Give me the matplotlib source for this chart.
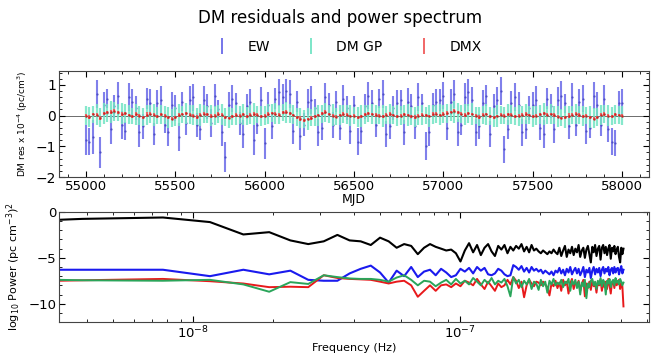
import numpy as np
import matplotlib
matplotlib.use("Agg")
import matplotlib.pyplot as plt
from matplotlib.ticker import AutoMinorLocator
from matplotlib.lines import Line2D

# ---------------- top panel data (DM residuals, units 1e-4 pc/cm^3) ----------------
mjd = [55000 + 20 * i for i in range(151)]

ew_val = [
    -0.80, -0.85, -0.70, 0.70, -1.20, 0.35, 0.55, -0.45, 0.30, 0.65,
    -0.30, -0.50, 0.60, 0.45, 0.25, -0.55, -0.35, 0.55, 0.40, -0.60,
    0.40, 0.50, -0.30, -0.55, 0.35, 0.25, -0.70, 0.45, -0.25, 0.50,
    0.60, -0.30, -0.45, 0.50, 0.30, -0.25, 0.65, 0.20, -0.55, -1.35,
    0.35, 0.55, 0.40, -0.25, -0.60, 0.30, 0.45, -0.80, -0.30, 0.50,
    -0.90, 0.35, -0.35, 0.55, 0.75, 0.60, 0.80, 0.70, -0.50, 0.45,
    -0.65, -0.30, 0.45, 0.50, 0.25, -0.55, -0.40, 0.60, 0.35, -0.30,
    0.45, -0.40, 0.55, 0.25, -0.50, 0.35, -0.85, -0.50, 0.30, 0.65,
    0.40, -0.30, 0.55, 0.70, -0.60, -0.35, 0.25, 0.40, 0.50, -0.55,
    0.45, 0.30, -0.35, 0.60, 0.40, -1.00, -0.55, 0.35, 0.45, 0.50,
    0.65, -0.40, 0.45, 0.70, -0.55, -0.30, 0.60, 0.75, 0.50, -0.55,
    -0.35, 0.40, 0.65, -0.60, 0.30, 0.50, 0.80, -1.10, -0.45, 0.40,
    0.60, 0.35, -0.55, -0.45, 0.25, 0.35, 0.50, -0.40, -0.60, 0.55,
    0.30, -0.45, 0.50, 0.65, 0.40, -0.35, 0.60, -0.30, 0.45, 0.55,
    -0.50, -0.40, 0.65, 0.35, -0.30, 0.55, -0.45, -0.85, -0.90, 0.40,
    0.40]
ew_err = [
    0.50, 0.45, 0.55, 0.45, 0.50, 0.40, 0.32, 0.48, 0.38, 0.44,
    0.46, 0.30, 0.45, 0.42, 0.38, 0.47, 0.40, 0.34, 0.46, 0.36,
    0.42, 0.45, 0.28, 0.44, 0.40, 0.43, 0.47, 0.31, 0.37, 0.45,
    0.44, 0.39, 0.33, 0.46, 0.40, 0.45, 0.37, 0.29, 0.44, 0.50,
    0.40, 0.45, 0.32, 0.38, 0.46, 0.40, 0.43, 0.48, 0.30, 0.44,
    0.50, 0.41, 0.40, 0.35, 0.45, 0.43, 0.40, 0.47, 0.42, 0.34,
    0.46, 0.38, 0.42, 0.45, 0.30, 0.44, 0.41, 0.46, 0.39, 0.43,
    0.35, 0.40, 0.44, 0.38, 0.42, 0.29, 0.45, 0.43, 0.40, 0.44,
    0.42, 0.39, 0.31, 0.45, 0.43, 0.40, 0.38, 0.44, 0.33, 0.42,
    0.44, 0.40, 0.41, 0.45, 0.30, 0.45, 0.44, 0.39, 0.42, 0.36,
    0.45, 0.41, 0.43, 0.47, 0.44, 0.32, 0.46, 0.45, 0.42, 0.44,
    0.40, 0.43, 0.35, 0.42, 0.39, 0.44, 0.45, 0.45, 0.32, 0.40,
    0.45, 0.41, 0.44, 0.30, 0.38, 0.42, 0.46, 0.40, 0.44, 0.35,
    0.39, 0.43, 0.44, 0.46, 0.31, 0.40, 0.45, 0.38, 0.43, 0.44,
    0.42, 0.34, 0.45, 0.41, 0.38, 0.44, 0.42, 0.45, 0.42, 0.40,
    0.45]
gp_val = [
    0.00, -0.04, 0.04, 0.03, -0.06, 0.07, 0.09, 0.11, 0.13, 0.09,
    0.06, 0.07, 0.03, -0.02, 0.04, 0.01, -0.04, 0.02, 0.05, 0.03,
    -0.01, 0.03, 0.01, -0.05, -0.08, -0.04, 0.01, 0.04, 0.07, 0.04,
    0.01, -0.03, 0.02, 0.05, 0.04, -0.01, 0.01, 0.04, 0.03, -0.04,
    -0.06, -0.03, 0.01, 0.01, 0.03, -0.01, 0.02, 0.05, 0.03, -0.02,
    0.00, 0.04, 0.07, 0.06, 0.04, 0.09, 0.10, 0.07, 0.03, -0.04,
    -0.08, -0.12, -0.10, -0.07, -0.03, 0.01, 0.06, 0.10, 0.05, 0.01,
    -0.03, 0.02, 0.05, 0.03, -0.01, 0.00, -0.05, -0.02, 0.03, 0.06,
    0.05, 0.02, 0.01, -0.02, 0.02, 0.05, 0.02, -0.01, 0.00, 0.03,
    0.02, -0.02, -0.04, 0.00, 0.02, 0.01, -0.01, 0.03, 0.05, 0.03,
    0.05, 0.07, 0.10, 0.12, 0.09, 0.06, 0.03, 0.07, 0.05, 0.01,
    -0.03, 0.01, 0.04, -0.02, -0.05, -0.02, 0.02, 0.00, 0.03, 0.02,
    -0.01, 0.00, 0.02, 0.04, 0.02, -0.02, 0.00, 0.03, 0.06, 0.03,
    0.04, 0.02, -0.03, -0.06, -0.04, 0.00, 0.02, 0.05, 0.02, -0.01,
    0.00, -0.04, -0.08, -0.05, 0.01, 0.04, 0.00, -0.02, 0.03, 0.02,
    0.00]
gp_err = [
    0.30, 0.32, 0.28, 0.35, 0.30, 0.33, 0.29, 0.36, 0.31, 0.28,
    0.34, 0.30, 0.32, 0.27, 0.35, 0.31, 0.29, 0.33, 0.30, 0.36,
    0.28, 0.32, 0.30, 0.34, 0.29, 0.31, 0.35, 0.28, 0.33, 0.30,
    0.32, 0.29, 0.36, 0.30, 0.28, 0.34, 0.31, 0.29, 0.33, 0.30,
    0.35, 0.28, 0.32, 0.30, 0.34, 0.29, 0.31, 0.36, 0.28, 0.33,
    0.30, 0.32, 0.29, 0.35, 0.31, 0.28, 0.34, 0.30, 0.32, 0.29,
    0.33, 0.30, 0.36, 0.28, 0.31, 0.34, 0.29, 0.32, 0.30, 0.35,
    0.28, 0.33, 0.30, 0.31, 0.34, 0.29, 0.32, 0.36, 0.30, 0.28,
    0.33, 0.31, 0.29, 0.35, 0.30, 0.32, 0.28, 0.34, 0.31, 0.30,
    0.36, 0.29, 0.32, 0.30, 0.33, 0.28, 0.35, 0.31, 0.29, 0.34,
    0.30, 0.32, 0.28, 0.36, 0.31, 0.29, 0.33, 0.30, 0.35, 0.28,
    0.32, 0.30, 0.34, 0.29, 0.31, 0.36, 0.30, 0.28, 0.33, 0.31,
    0.29, 0.35, 0.30, 0.32, 0.28, 0.34, 0.31, 0.30, 0.36, 0.29,
    0.32, 0.30, 0.33, 0.28, 0.35, 0.31, 0.29, 0.34, 0.30, 0.32,
    0.28, 0.36, 0.31, 0.30, 0.33, 0.29, 0.35, 0.30, 0.32, 0.28,
    0.30]
dmx_val = [
    0.00, -0.05, 0.05, 0.02, -0.08, 0.08, 0.10, 0.12, 0.15, 0.10,
    0.05, 0.08, 0.02, -0.03, 0.05, 0.00, -0.05, 0.03, 0.06, 0.02,
    -0.02, 0.04, 0.00, -0.06, -0.10, -0.05, 0.02, 0.05, 0.08, 0.03,
    0.00, -0.04, 0.02, 0.06, 0.04, -0.02, 0.00, 0.05, 0.03, -0.05,
    -0.08, -0.03, 0.02, 0.00, 0.04, -0.02, 0.03, 0.06, 0.02, -0.03,
    0.00, 0.05, 0.08, 0.06, 0.03, 0.10, 0.12, 0.08, 0.02, -0.05,
    -0.10, -0.15, -0.12, -0.08, -0.03, 0.02, 0.08, 0.12, 0.05, 0.00,
    -0.04, 0.02, 0.06, 0.03, -0.02, 0.00, -0.06, -0.03, 0.04, 0.07,
    0.05, 0.02, 0.00, -0.03, 0.03, 0.06, 0.02, -0.02, 0.00, 0.04,
    0.02, -0.03, -0.05, 0.00, 0.03, 0.01, -0.02, 0.04, 0.06, 0.02,
    0.05, 0.08, 0.12, 0.15, 0.10, 0.06, 0.02, 0.08, 0.05, 0.00,
    -0.04, 0.02, 0.05, -0.03, -0.06, -0.02, 0.03, 0.00, 0.04, 0.02,
    -0.02, 0.00, 0.03, 0.05, 0.02, -0.03, 0.00, 0.04, 0.07, 0.03,
    0.05, 0.02, -0.04, -0.08, -0.05, 0.00, 0.03, 0.06, 0.02, -0.02,
    0.00, -0.05, -0.10, -0.06, 0.02, 0.05, 0.00, -0.03, 0.04, 0.02,
    0.00]
dmx_err = [
    0.05, 0.06, 0.04, 0.05, 0.07, 0.05, 0.04, 0.06, 0.05, 0.04,
    0.06, 0.05, 0.04, 0.05, 0.06, 0.04, 0.05, 0.07, 0.04, 0.05,
    0.05, 0.04, 0.06, 0.05, 0.04, 0.05, 0.06, 0.04, 0.05, 0.05,
    0.04, 0.06, 0.05, 0.04, 0.05, 0.07, 0.04, 0.05, 0.06, 0.05,
    0.04, 0.05, 0.06, 0.04, 0.05, 0.05, 0.04, 0.06, 0.05, 0.04,
    0.05, 0.06, 0.04, 0.05, 0.05, 0.04, 0.06, 0.05, 0.04, 0.05,
    0.07, 0.05, 0.04, 0.06, 0.05, 0.04, 0.05, 0.06, 0.04, 0.05,
    0.05, 0.04, 0.06, 0.05, 0.04, 0.05, 0.06, 0.04, 0.05, 0.05,
    0.04, 0.06, 0.05, 0.04, 0.05, 0.07, 0.04, 0.05, 0.06, 0.05,
    0.04, 0.05, 0.06, 0.04, 0.05, 0.05, 0.04, 0.06, 0.05, 0.04,
    0.05, 0.06, 0.04, 0.05, 0.05, 0.04, 0.06, 0.05, 0.04, 0.05,
    0.07, 0.05, 0.04, 0.06, 0.05, 0.04, 0.05, 0.06, 0.04, 0.05,
    0.05, 0.04, 0.06, 0.05, 0.04, 0.05, 0.06, 0.04, 0.05, 0.05,
    0.04, 0.06, 0.05, 0.04, 0.05, 0.07, 0.04, 0.05, 0.06, 0.05,
    0.04, 0.05, 0.06, 0.04, 0.05, 0.05, 0.04, 0.06, 0.05, 0.04,
    0.05]

# ---------------- bottom panel data (log10 power) ----------------
span_days = 3000.0
freq = [3.15e-9] + [k / (span_days * 86400.0) for k in range(1, 107)]

pow_ew = [
    -0.85, -0.75, -0.60, -1.10, -2.45, -2.20, -3.10, -3.50, -3.20, -2.50,
    -3.10, -3.20, -3.60, -2.80, -3.20, -3.90, -3.50, -3.70, -4.60, -3.90,
    -3.50,
    -3.8, -4.0, -4.2, -4.1, -4.5, -5.4, -4.2, -3.4, -4.4, -3.6,
    -4.7, -3.9, -3.5, -4.3, -4.8, -3.7, -4.1, -3.6, -4.5, -3.8,
    -4.2, -3.7, -4.0, -3.5, -4.3, -3.8, -4.4, -3.6, -4.2, -4.0,
    -4.3, -4.5, -4.2, -4.4, -4.6, -4.3, -4.5, -4.1, -4.4, -4.6,
    -3.9, -4.8, -4.2, -3.7, -4.9, -4.1, -4.5, -3.8, -4.7, -4.0,
    -4.4, -3.6, -4.9, -4.2, -3.9, -5.0, -4.1, -3.7, -4.6, -5.5,
    -3.8, -4.4, -3.6, -4.8, -4.0, -3.7, -5.2, -3.9, -3.6, -4.5,
    -3.8, -4.7, -4.0, -3.6, -5.1, -3.9, -4.3, -3.7, -4.6, -4.1,
    -3.8, -4.9, -5.5, -3.9, -4.6, -4.0]
pow_blue = [
    -6.30, -6.30, -6.30, -7.00, -6.30, -6.80, -6.40, -7.40, -7.50, -7.50,
    -6.70, -6.20, -5.85, -6.60, -7.70, -6.40, -7.00, -6.00, -7.10, -6.50,
    -6.30,
    -6.9, -6.2, -6.6, -7.1, -6.9, -6.2, -6.5, -6.1, -6.7, -6.0,
    -6.4, -6.1, -6.8, -6.9, -6.7, -6.2, -6.4, -6.8, -7.0, -6.9,
    -5.8, -6.0, -6.3, -5.9, -6.5, -6.1, -6.6, -6.0, -6.4, -6.2,
    -6.5, -6.3, -6.7, -6.4, -6.6, -6.8, -6.5, -6.9, -6.4, -6.6,
    -6.1, -6.7, -6.3, -6.9, -6.2, -6.6, -6.0, -6.8, -6.4, -6.1,
    -6.7, -6.2, -6.9, -6.5, -6.0, -7.1, -6.3, -6.6, -6.1, -7.2,
    -6.4, -6.0, -6.8, -6.2, -6.6, -6.1, -7.0, -6.3, -6.0, -6.7,
    -6.2, -6.5, -6.0, -6.9, -6.3, -6.1, -6.7, -6.0, -6.6, -6.2,
    -6.1, -6.8, -6.3, -5.9, -6.7, -6.3]
pow_red = [
    -7.50, -7.45, -7.30, -7.55, -7.80, -8.20, -8.15, -8.20, -6.90, -7.20,
    -7.30, -7.35, -7.40, -7.60, -7.80, -7.60, -7.50, -8.00, -9.25, -8.60,
    -8.00,
    -8.6, -8.0, -7.9, -8.2, -7.8, -8.1, -7.5, -7.7, -8.0, -7.3,
    -7.9, -8.4, -7.6, -8.1, -8.6, -7.8, -8.2, -8.0, -7.4, -7.9,
    -7.1, -7.5, -8.3, -7.6, -9.3, -8.0, -7.4, -7.8, -8.1, -7.6,
    -7.7, -8.0, -7.6, -7.9, -8.2, -9.1, -7.8, -8.1, -7.5, -8.3,
    -7.7, -8.6, -7.4, -8.0, -7.6, -8.9, -7.8, -7.3, -8.4, -7.7,
    -8.0, -7.5, -8.6, -7.9, -7.4, -9.2, -7.8, -8.3, -7.6, -8.5,
    -7.5, -8.1, -7.8, -8.8, -7.6, -8.0, -7.4, -8.6, -7.7, -8.2,
    -7.6, -8.4, -7.3, -8.0, -8.9, -7.7, -7.5, -8.3, -7.4, -8.0,
    -7.6, -7.4, -8.4, -7.8, -8.1, -10.3]
pow_green = [
    -7.40, -7.45, -7.50, -7.40, -7.90, -8.70, -7.65, -7.85, -6.90, -7.10,
    -7.25, -7.30, -7.30, -7.40, -7.60, -7.15, -6.90, -7.40, -8.00, -7.50,
    -7.60,
    -8.1, -7.7, -7.4, -7.9, -7.3, -7.8, -7.5, -7.9, -7.2, -7.6,
    -8.0, -7.4, -7.8, -7.2, -7.9, -7.5, -7.7, -7.3, -8.1, -9.2,
    -7.1, -7.8, -7.4, -8.2, -7.5, -7.9, -7.3, -8.4, -7.6, -7.8,
    -8.5, -7.4, -8.1, -7.6, -8.8, -7.5, -7.9, -7.3, -8.0, -7.7,
    -7.9, -7.4, -8.2, -7.6, -7.8, -7.3, -8.6, -7.5, -7.9, -7.4,
    -8.3, -7.6, -9.0, -7.7, -8.1, -7.4, -9.4, -7.8, -8.2, -7.5,
    -7.3, -8.0, -7.6, -8.4, -7.5, -7.9, -7.2, -8.1, -7.4, -7.7,
    -9.0, -7.5, -7.8, -7.3, -8.2, -7.6, -7.4, -8.0, -7.2, -7.7,
    -7.5, -7.9, -7.3, -7.6, -8.0, -7.7]

# ---------------- figure ----------------
fig = plt.figure(figsize=(6.66, 3.56), dpi=100)
ax1 = fig.add_axes([0.0886, 0.5028, 0.886, 0.2978])
ax2 = fig.add_axes([0.0886, 0.0955, 0.886, 0.3090])

c_ew, c_gp, c_dmx = "#6a6ae8", "#72e4c4", "#f05a5a"

ax1.axhline(0, color="#333333", lw=0.5, zorder=1)
ax1.errorbar(mjd, ew_val, yerr=ew_err, fmt=".", ms=1.2, color="#4646c0",
             ecolor=c_ew, elinewidth=1.5, capsize=0, alpha=0.85, zorder=2)
ax1.errorbar(mjd, gp_val, yerr=gp_err, fmt=".", ms=1.2, color="#38b890",
             ecolor=c_gp, elinewidth=1.6, capsize=0, alpha=0.85, zorder=3)
ax1.errorbar(mjd, dmx_val, yerr=dmx_err, fmt=".", ms=1.5, color="#d02020",
             ecolor=c_dmx, elinewidth=1.5, capsize=0, alpha=0.9, zorder=4)
ax1.set_ylim(-2, 1.45)
ax1.set_yticks([-2, -1, 0, 1])
ax1.set_xlabel("MJD", fontsize=9, labelpad=0)
ax1.set_ylabel(r"DM res x 10$^{-4}$ (pc/cm$^3$)", fontsize=6.5)
ax1.set_xticks([55000, 55500, 56000, 56500, 57000, 57500, 58000])

ax2.plot(freq, pow_ew, color="black", lw=1.5)
ax2.plot(freq, pow_blue, color="#1a1aee", lw=1.5)
ax2.plot(freq, pow_red, color="#e8191b", lw=1.4)
ax2.plot(freq, pow_green, color="#2aa55a", lw=1.4)
ax2.set_xscale("log")
ax2.set_xlim(3.15e-9, 5.1e-7)
ax2.set_ylim(-12, 0)
ax2.set_yticks([0, -5, -10])
ax2.set_xlabel("Frequency (Hz)", fontsize=8, labelpad=1)
ax2.set_ylabel(r"log$_{10}$ Power (pc cm$^{-3}$)$^2$", fontsize=8)

for ax in (ax1, ax2):
    ax.tick_params(which="both", direction="in", top=True, right=True,
                   labelsize=9.5, pad=2)
    ax.tick_params(which="major", length=4)
    ax.tick_params(which="minor", length=2)
    ax.yaxis.set_minor_locator(AutoMinorLocator(5))
    for s in ax.spines.values():
        s.set_color("#444444")
ax1.xaxis.set_minor_locator(AutoMinorLocator(5))
ax1.tick_params(axis="y", labelsize=10)

fig.suptitle("DM residuals and power spectrum", fontsize=12, x=0.51, y=0.975)
handles = [Line2D([], [], marker="|", ls="None", ms=11, mew=1.3, color=c, label=l)
           for c, l in [(c_ew, "EW"), (c_gp, "DM GP"), (c_dmx, "DMX")]]
fig.legend(handles=handles, loc="center", bbox_to_anchor=(0.518, 0.868),
           ncol=3, frameon=False, fontsize=10, handlelength=2.0,
           handletextpad=0.8, columnspacing=2.0)

fig.savefig("out.png", dpi=100)
